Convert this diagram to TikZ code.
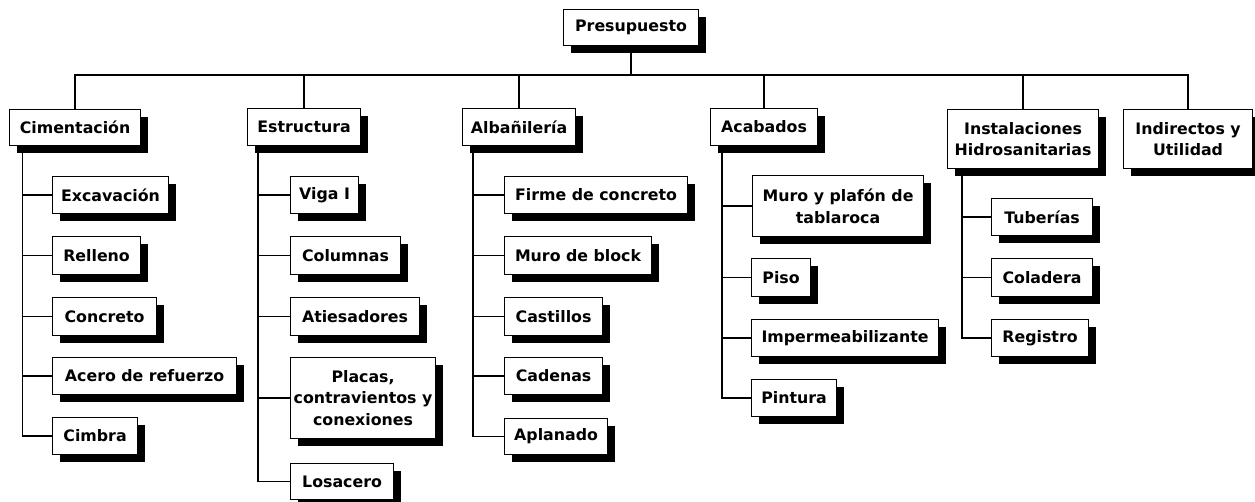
\documentclass[tikz,border=0pt]{standalone}
\usepackage{fontspec}
\setmainfont{DejaVu Sans}
\usepackage{tikz}
\usetikzlibrary{shadows}

\begin{document}
\begin{tikzpicture}[x=1pt,y=1pt]
\tikzstyle{every node}+=[inner sep=0pt]
\tikzstyle{box}=[draw=black, line width=1.1pt, fill=white, anchor=north west, align=center,
  font=\bfseries\fontsize{15.8}{21.5}\selectfont,
  drop shadow={shadow xshift=7pt, shadow yshift=-7pt, fill=black, opacity=1}]
\tikzstyle{link}=[line width=1.3pt, black]
\useasboundingbox (0,0) rectangle (1255,-502);
% root
\node [box, minimum width=135pt, minimum height=36pt] (pres) at (563,-9) {Presupuesto};
\coordinate (bus) at (630,-75);
% Cimentacion
\node [box, minimum width=131pt, minimum height=36pt] (cim) at (9,-109) {Cimentación};
\node [box, minimum width=116pt, minimum height=37pt] (exc) at (52,-176) {Excavación};
\node [box, minimum width=88pt, minimum height=38pt] (rel) at (52,-236) {Relleno};
\node [box, minimum width=104pt, minimum height=38pt] (conc) at (52,-297) {Concreto};
\node [box, minimum width=184pt, minimum height=37pt] (ace) at (52,-357) {Acero de refuerzo};
\node [box, minimum width=85pt, minimum height=37pt] (cimb) at (52,-417) {Cimbra};
% Estructura
\node [box, minimum width=113pt, minimum height=37pt] (est) at (247,-108) {Estructura};
\node [box, minimum width=68pt, minimum height=37pt] (viga) at (290,-176) {Viga I};
\node [box, minimum width=110pt, minimum height=38pt] (colu) at (290,-236) {Columnas};
\node [box, minimum width=129pt, minimum height=38pt] (ati) at (290,-297) {Atiesadores};
\node [box, minimum width=145pt, minimum height=81pt] (plac) at (290,-357) {Placas,\\contravientos y\\conexiones};
\node [box, minimum width=103pt, minimum height=36pt] (losa) at (290,-463) {Losacero};
% Albanileria
\node [box, minimum width=113pt, minimum height=37pt] (alb) at (462,-108) {Albañilería};
\node [box, minimum width=183pt, minimum height=37pt] (firm) at (504,-176) {Firme de concreto};
\node [box, minimum width=147pt, minimum height=38pt] (muro) at (504,-236) {Muro de block};
\node [box, minimum width=98pt, minimum height=38pt] (cast) at (504,-297) {Castillos};
\node [box, minimum width=98pt, minimum height=37pt] (cade) at (504,-357) {Cadenas};
\node [box, minimum width=103pt, minimum height=36pt] (apla) at (504,-418) {Aplanado};
% Acabados
\node [box, minimum width=107pt, minimum height=37pt] (aca) at (710,-108) {Acabados};
\node [box, minimum width=171pt, minimum height=61pt] (tabl) at (752,-175) {Muro y plafón de\\tablaroca};
\node [box, minimum width=59pt, minimum height=38pt] (piso) at (751,-258) {Piso};
\node [box, minimum width=187pt, minimum height=37pt] (imp) at (751,-319) {Impermeabilizante};
\node [box, minimum width=85pt, minimum height=37pt] (pint) at (751,-379) {Pintura};
% Instalaciones
\node [box, minimum width=151pt, minimum height=59pt] (inst) at (947,-109) {Instalaciones\\Hidrosanitarias};
\node [box, minimum width=101pt, minimum height=37pt] (tub) at (991,-198) {Tuberías};
\node [box, minimum width=101pt, minimum height=38pt] (cola) at (991,-258) {Coladera};
\node [box, minimum width=97pt, minimum height=37pt] (regi) at (991,-319) {Registro};
% Indirectos
\node [box, minimum width=129pt, minimum height=59pt] (indi) at (1123,-109) {Indirectos y\\Utilidad};
% top level links
\draw [link] (pres.south) -- (pres.south |- bus) -| (cim.north);
\draw [link] (pres.south) -- (pres.south |- bus) -| (est.north);
\draw [link] (pres.south) -- (pres.south |- bus) -| (alb.north);
\draw [link] (pres.south) -- (pres.south |- bus) -| (aca.north);
\draw [link] (pres.south) -- (pres.south |- bus) -| (inst.north);
\draw [link] (pres.south) -- (pres.south |- bus) -| (indi.north);
% Cimentacion links
\draw [link] ([xshift=13.5pt]cim.south west) |- (exc.west);
\draw [link] ([xshift=13.5pt]cim.south west) |- (rel.west);
\draw [link] ([xshift=13.5pt]cim.south west) |- (conc.west);
\draw [link] ([xshift=13.5pt]cim.south west) |- (ace.west);
\draw [link] ([xshift=13.5pt]cim.south west) |- (cimb.west);
% Estructura links
\draw [link] ([xshift=11pt]est.south west) |- (viga.west);
\draw [link] ([xshift=11pt]est.south west) |- (colu.west);
\draw [link] ([xshift=11pt]est.south west) |- (ati.west);
\draw [link] ([xshift=11pt]est.south west) |- (plac.west);
\draw [link] ([xshift=11pt]est.south west) |- (losa.west);
% Albanileria links
\draw [link] ([xshift=11pt]alb.south west) |- (firm.west);
\draw [link] ([xshift=11pt]alb.south west) |- (muro.west);
\draw [link] ([xshift=11pt]alb.south west) |- (cast.west);
\draw [link] ([xshift=11pt]alb.south west) |- (cade.west);
\draw [link] ([xshift=11pt]alb.south west) |- (apla.west);
% Acabados links
\draw [link] ([xshift=12pt]aca.south west) |- (tabl.west);
\draw [link] ([xshift=12pt]aca.south west) |- (piso.west);
\draw [link] ([xshift=12pt]aca.south west) |- (imp.west);
\draw [link] ([xshift=12pt]aca.south west) |- (pint.west);
% Instalaciones links
\draw [link] ([xshift=15pt]inst.south west) |- (tub.west);
\draw [link] ([xshift=15pt]inst.south west) |- (cola.west);
\draw [link] ([xshift=15pt]inst.south west) |- (regi.west);
\end{tikzpicture}
\end{document}
